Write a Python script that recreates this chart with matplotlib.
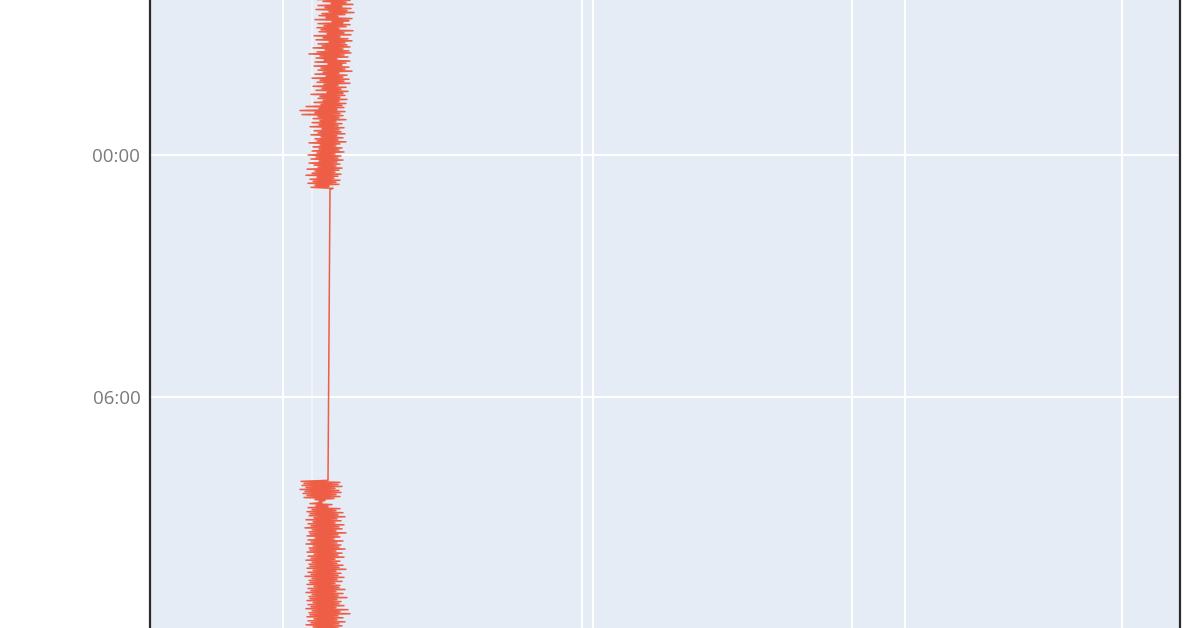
import matplotlib
matplotlib.use("Agg")
import matplotlib.pyplot as plt
import matplotlib.dates as mdates
import pandas as pd

# ---- data -------------------------------------------------------------
# evening block (sampled every 90 s from 20:00)
evening_start = "2023-01-01 20:00"
evening_values = [
    17.0, 19.8, 16.9, 20.2, 17.8, 19.4, 16.7, 20.0, 17.3, 19.6,
    18.1, 20.3, 16.8, 19.2, 17.5, 20.1, 16.6, 19.7, 17.9, 20.4,
    17.2, 19.5, 16.9, 18.8, 17.6, 20.2, 16.5, 19.9, 18.2, 19.3,
    16.8, 20.0, 17.4, 19.6, 16.7, 18.9, 17.1, 20.3, 16.9, 19.4,
    17.7, 20.1, 16.4, 19.0, 17.3, 19.8, 16.6, 20.2, 17.9, 19.5,
    16.8, 19.7, 17.2, 20.0, 16.3, 19.3, 17.5, 19.9, 16.7, 20.1,
    15.9, 19.4, 17.0, 19.8, 16.6, 18.7, 17.4, 20.0, 16.5, 19.6,
    17.8, 19.2, 16.4, 19.9, 17.1, 19.5, 16.8, 20.2, 17.3, 18.9,
    16.5, 19.7, 17.6, 19.3, 16.2, 19.9, 17.0, 19.4, 16.7, 20.0,
    17.4, 18.8, 16.3, 19.6, 17.2, 19.1, 16.6, 19.8, 17.7, 19.3,
    16.1, 19.5, 17.0, 19.0, 16.8, 19.7, 17.3, 18.9, 16.4, 19.6,
    17.1, 19.2, 15.6, 19.4, 16.9, 18.7, 15.0, 19.5, 16.5, 19.0,
    15.2, 19.3, 16.8, 18.9, 16.3, 19.6, 17.0, 18.6, 16.2, 19.2,
    16.9, 18.8, 16.0, 19.4, 17.2, 18.9, 16.4, 19.1, 16.8, 19.5,
    16.1, 18.7, 17.1, 19.3, 16.5, 18.8, 16.7, 19.6, 15.9, 19.0,
    17.0, 18.6, 16.3, 19.2, 16.9, 18.9, 16.2, 19.4, 16.7, 18.5,
    15.8, 19.1, 16.6, 18.8, 16.1, 19.3, 16.9, 18.7, 15.9, 19.0,
    16.4, 18.6, 16.8, 19.2, 15.7, 18.9, 16.5, 18.5, 16.2, 19.1,
    15.6, 18.8, 16.7, 18.4, 16.0, 19.0, 16.3, 18.6, 15.8, 18.9,
    16.5, 17.9, 16.1, 18.3, 18.0,
]
# morning block (sampled every 90 s from 08:03)
morning_start = "2023-01-02 08:03"
morning_values = [
    17.8, 15.1, 19.0, 15.4, 18.8, 15.2, 19.2, 15.6, 18.5, 15.0,
    18.9, 15.5, 19.1, 15.3, 18.6, 15.7, 19.0, 15.4, 18.4,
    16.5, 17.5, 16.9, 17.2, 16.0, 18.2, 16.6, 17.8, 15.8,
    19.0, 16.2, 18.6, 15.7, 19.3, 16.0, 18.8, 15.9, 19.5, 16.4,
    18.7, 15.6, 19.1, 16.3, 18.5, 15.8, 19.4, 16.1, 18.9, 15.5,
    19.2, 16.2, 18.6, 15.9, 19.6, 16.0, 18.8, 15.7, 19.0, 16.5,
    18.4, 15.8, 19.3, 16.1, 18.7, 15.6, 19.1, 16.3, 18.9, 15.9,
    19.5, 16.0, 18.6, 15.7, 19.2, 16.4, 18.8, 15.8, 19.4, 16.1,
    18.5, 15.6, 19.0, 16.2, 18.7, 15.9, 19.3, 16.0, 18.9, 15.7,
    19.6, 16.3, 18.6, 15.8, 19.1, 16.1, 18.8, 15.5, 19.4, 16.2,
    18.7, 15.9, 19.2, 16.0, 18.5, 15.7, 19.0, 16.4, 18.9, 15.8,
    19.5, 16.1, 18.6, 15.6, 19.3, 16.2, 18.8, 15.9, 19.7, 16.0,
    18.7, 15.7, 19.1, 16.3, 18.9, 15.8, 19.4, 16.1, 18.6, 15.6,
    19.8, 16.2, 19.0, 15.9, 20.0, 16.0, 18.8, 15.7, 19.3, 16.4,
    18.7, 15.8, 19.5, 16.1, 18.9, 15.6, 19.2, 16.3, 18.8, 15.9,
    19.4, 16.0, 18.6, 15.8, 19.1, 16.2, 18.9, 15.7, 19.3,
]
sample_step = "90s"

y_tick_times = ["2023-01-02 00:00", "2023-01-02 06:00", "2023-01-02 12:00"]
y_tick_labels = ["00:00", "06:00", "12:00"]
x_grid = [13.3, 43.2, 44.3, 70.2, 75.5, 97.2]
x_grid_faint = [16.2]

# ---- build series -----------------------------------------------------
t_even = pd.date_range(evening_start, periods=len(evening_values), freq=sample_step)
t_morn = pd.date_range(morning_start, periods=len(morning_values), freq=sample_step)
times = list(t_even) + list(t_morn)
values = evening_values + morning_values

# ---- figure -----------------------------------------------------------
W, H, DPI = 1198, 628, 100
fig = plt.figure(figsize=(W / DPI, H / DPI), dpi=DPI)
fig.patch.set_facecolor("white")

# axes extends beyond the visible canvas (the picture is a crop)
top_px, bot_px = -50, 700
left_px, right_px = 150, 1180
ax = fig.add_axes([left_px / W, (H - bot_px) / H,
                   (right_px - left_px) / W, (bot_px - top_px) / H])
ax.set_facecolor("#E5ECF6")

px_per_hour = 242.5 / 6.0
midnight = pd.Timestamp("2023-01-02 00:00")
y_top = midnight + pd.Timedelta(hours=(top_px - 155) / px_per_hour)
y_bot = midnight + pd.Timedelta(hours=(bot_px - 155) / px_per_hour)

ax.plot(values, times, color="#EF553B", lw=1.1, alpha=0.95, zorder=3)

ax.set_ylim(mdates.date2num(y_bot), mdates.date2num(y_top))
ax.set_xlim(0, 103)

ax.set_yticks([mdates.date2num(pd.Timestamp(t)) for t in y_tick_times])
ax.set_yticklabels(y_tick_labels, fontfamily="Open Sans", fontsize=13.5, color="#7a7a7a")
ax.set_xticks(x_grid)
ax.set_xticklabels([])
ax.tick_params(axis="both", length=0, pad=7)

ax.grid(True, color="white", lw=1.5, zorder=1)
ax.set_axisbelow(True)
for xv in x_grid_faint:
    ax.axvline(xv, color="white", lw=1.5, alpha=0.45, zorder=1)

for s in ["top", "bottom"]:
    ax.spines[s].set_visible(False)
for s in ["left", "right"]:
    ax.spines[s].set_color("#2a2a2a")
    ax.spines[s].set_linewidth(1.6)

fig.savefig("out.png", dpi=DPI)
